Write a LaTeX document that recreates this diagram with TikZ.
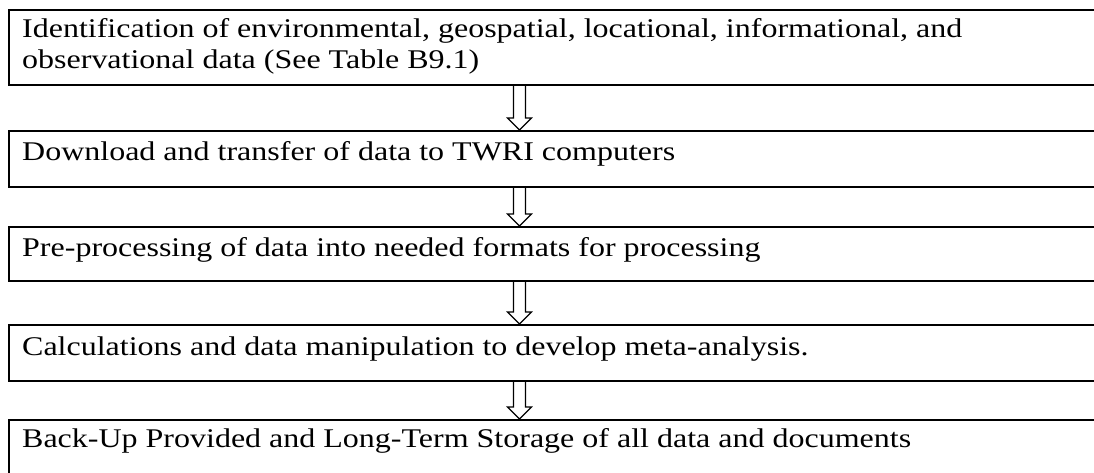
\documentclass[tikz,border=0pt]{standalone}
\usepackage{fontspec}
\setmainfont{Liberation Serif}[FakeStretch=1.185]
\usetikzlibrary{calc}
\tikzset{
  box/.style={draw=black, line width=1.6pt, rectangle, anchor=north west, inner sep=0pt, minimum width=1200pt},
  lbl/.style={anchor=base west, inner sep=0pt, font=\fontsize{27pt}{31pt}\selectfont},
  blockarrow/.style={draw=black, line width=1.1pt, line join=miter, to path={
    let \p1=(\tikztostart), \p2=(\tikztotarget) in
    (\x1-6,\y1) -- (\x1-6,\y2+12) -- (\x1-12,\y2+12) -- (\x2,\y2) -- (\x1+12,\y2+12) -- (\x1+6,\y2+12) -- (\x1+6,\y1)
  }}
}
\begin{document}
\begin{tikzpicture}[x=1pt,y=-1pt]
\useasboundingbox (0,0) rectangle (1094,472);
\clip (0,0) rectangle (1094,472);
\fill[white] (0,0) rectangle (1094,472);
\coordinate (ax) at (519.5,0);
\node[box, minimum height=75pt] (b1) at (8,9) {};
\node[box, minimum height=56pt] (b2) at (8,130) {};
\node[box, minimum height=54pt] (b3) at (8,226) {};
\node[box, minimum height=56pt] (b4) at (8,324) {};
\node[box, minimum height=60pt] (b5) at (8,419) {};
\node[lbl] (t1a) at (22,37) {Identification of environmental, geospatial, locational, informational, and};
\node[lbl] (t1b) at (22,68) {observational data (See Table B9.1)};
\node[lbl] (t2) at (22,160) {Download and transfer of data to TWRI computers};
\node[lbl] (t3) at (22,256) {Pre-processing of data into needed formats for processing};
\node[lbl] (t4) at (22,355) {Calculations and data manipulation to develop meta-analysis.};
\node[lbl] (t5) at (22,447) {Back-Up Provided and Long-Term Storage of all data and documents};
\draw[blockarrow] (b1.south -| ax) to (b2.north -| ax);
\draw[blockarrow] (b2.south -| ax) to (b3.north -| ax);
\draw[blockarrow] (b3.south -| ax) to (b4.north -| ax);
\draw[blockarrow] (b4.south -| ax) to (b5.north -| ax);
\end{tikzpicture}
\end{document}
